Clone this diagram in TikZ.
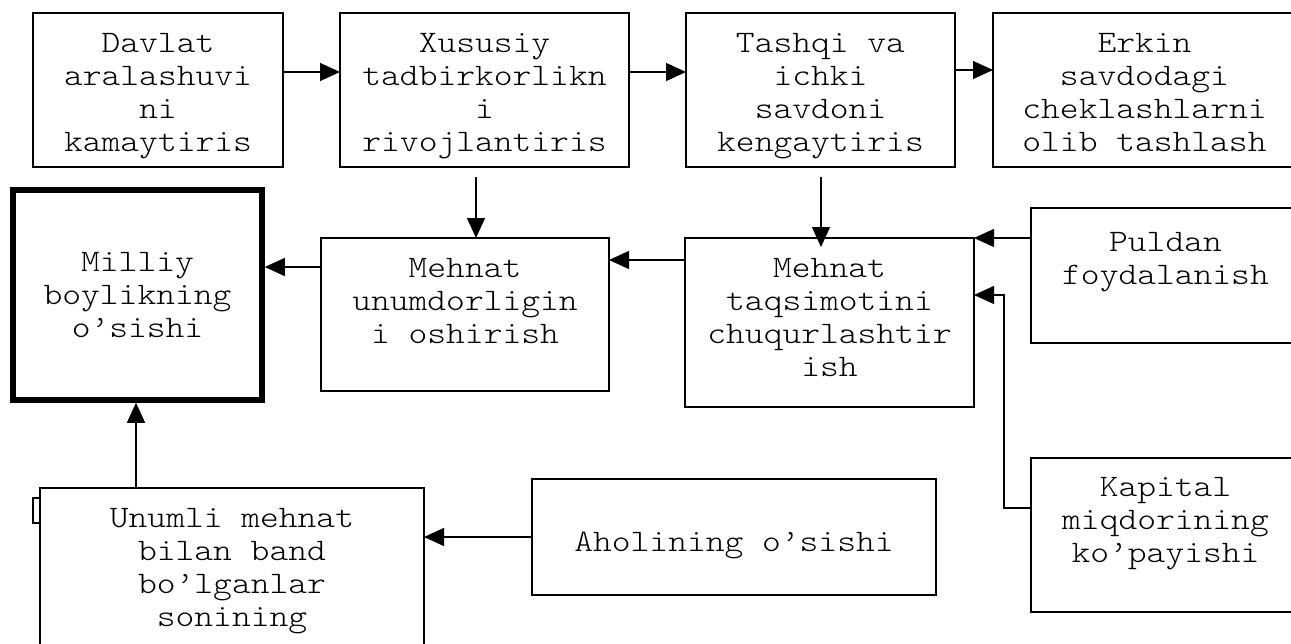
\documentclass[tikz,border=0pt]{standalone}
\usepackage{fontspec}
\setmonofont{lmmonolt10-regular.otf}[FakeStretch=1.143]
\usetikzlibrary{arrows.meta}

\tikzset{
  box/.style={draw, line width=1.3pt, inner sep=0pt, outer sep=0pt, anchor=north west,
    font=\ttfamily\fontsize{31.3}{33}\selectfont},
  arr/.style={-{Triangle[length=20pt,width=18pt]}, line width=1.3pt},
}
% width, height, first baseline, text
\newcommand{\boxtext}[4]{\begin{minipage}[t][#2pt][t]{#1pt}\centering\rule{0pt}{#3pt}#4\end{minipage}}

\begin{document}
\begin{tikzpicture}[x=1pt,y=-1pt]
\useasboundingbox (0,0) rectangle (1291,643);
\clip (0,0) rectangle (1291,643);

% top row
\node[box] (davlat) at (33,13) {\boxtext{250}{154}{39}{Davlat\\aralashuvi\\ni\\kamaytiris}};
\node[box] (xususiy) at (340,13) {\boxtext{289}{154}{39}{Xususiy\\tadbirkorlikn\\i\\rivojlantiris}};
\node[box] (tashqi) at (686,13) {\boxtext{269}{154}{39}{Tashqi va\\ichki\\savdoni\\kengaytiris}};
\node[box] (erkin) at (993,13) {\boxtext{303}{154}{39}{Erkin\\savdodagi\\cheklashlarni\\olib tashlash}};

% middle row
\node[box, line width=5.5pt, outer sep=2.75pt, anchor=center] (milliy) at (137.5,295)
  {\boxtext{249}{210}{81}{Milliy\\boylikning\\o’sishi}};
\node[box] (unumdor) at (321,238) {\boxtext{288}{153}{39}{Mehnat\\unumdorligin\\i oshirish}};
\node[box] (taqsim) at (685,238) {\boxtext{289}{169}{39}{Mehnat\\taqsimotini\\chuqurlashtir\\ish}};
\node[box] (puldan) at (1031,208) {\boxtext{269}{135}{43}{Puldan\\foydalanish}};

% bottom row
\draw[line width=1.3pt] (33,498) rectangle (40,523);
\node[box] (unumli) at (40,488) {\boxtext{384}{172}{39}{Unumli mehnat\\bilan band\\bo’lganlar\\sonining}};
\node[box] (aholi) at (532,479) {\boxtext{404}{116}{72}{Aholining o’sishi}};
\node[box] (kapital) at (1031,458) {\boxtext{269}{154}{38}{Kapital\\miqdorining\\ko’payishi}};

% connectors
\coordinate (toprow) at (0,72);
\coordinate (toprowb) at (0,70);
\draw[arr] (davlat.east |- toprow) -- (xususiy.west |- toprow);
\draw[arr] (xususiy.east |- toprow) -- (tashqi.west |- toprow);
\draw[arr] (tashqi.east |- toprowb) -- (erkin.west |- toprowb);

\coordinate (downa) at (476,177);
\coordinate (downb) at (821,177);
\coordinate (taqtop) at ([yshift=-9pt]taqsim.north);
\draw[arr] (downa) -- (downa |- unumdor.north);
\draw[arr] (downb) -- (downb |- taqtop);

\coordinate (midrow) at (0,267);
\coordinate (midrowb) at (0,260);
\draw[arr] (unumdor.west |- midrow) -- (milliy.east |- midrow);
\draw[arr] (taqsim.west |- midrowb) -- (unumdor.east |- midrowb);
\draw[arr] (puldan.west |- taqsim.north east) -- (taqsim.north east);

\coordinate (kapbend) at (1004,508);
\coordinate (kaptop) at (1004,295);
\draw[arr] (kapital.west |- kapbend) -- (kapbend) -- (kaptop) -- (taqsim.east |- kaptop);

\draw[arr] (aholi.west) -- (unumli.east |- aholi.west);
\coordinate (upcol) at (136,0);
\draw[arr] (unumli.north -| upcol) -- (milliy.south -| upcol);
\end{tikzpicture}
\end{document}
